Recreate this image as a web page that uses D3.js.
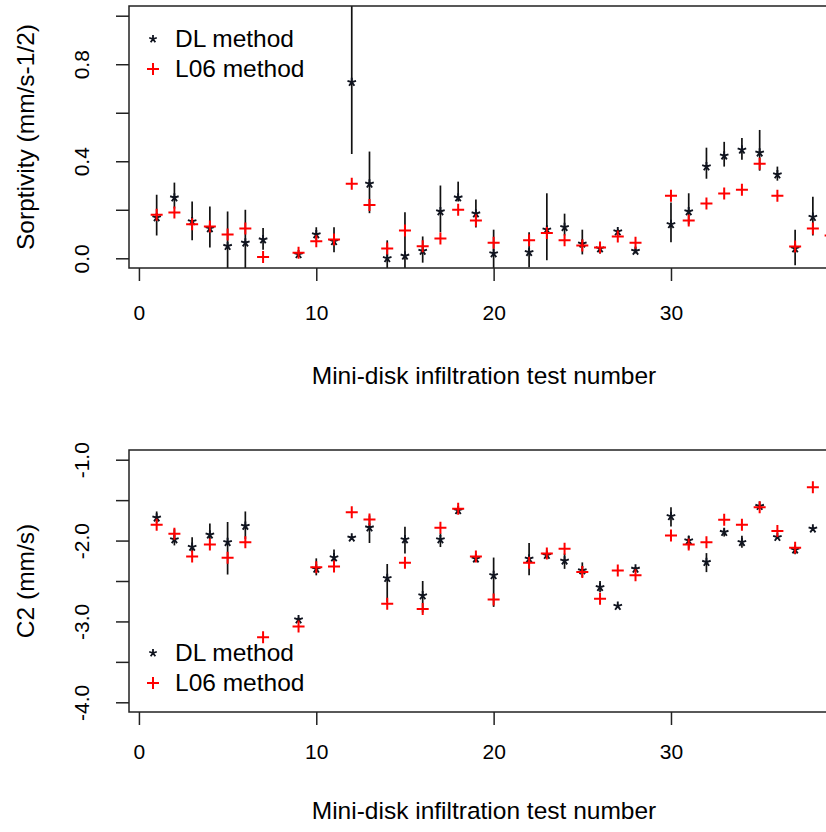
<!DOCTYPE html>
<html>
<head>
<meta charset="utf-8">
<script src="https://cdn.jsdelivr.net/npm/d3@7"></script>
<style>
  body { margin: 0; background: #fff; }
  text { font-family: "Liberation Sans", Arial, sans-serif; fill: #000; }
</style>
</head>
<body>
<div id="chart"></div>
<script>
"use strict";
// test numbers on the x axis
var testNo = [1,2,3,4,5,6,7,8,9,10,11,12,13,14,15,16,17,18,19,20,
              21,22,23,24,25,26,27,28,29,30,31,32,33,34,35,36,37,38,39];

// sorptivity, DL method (value, lower and upper end of bar) and L06 method
var dlS   = [0.168,0.25,0.152,0.123,0.05,0.064,0.077,null,0.016,0.098,0.07,0.726,0.307,0.0,0.01,0.03,0.193,0.25,0.184,0.02,
             null,0.025,0.118,0.128,0.06,0.04,0.11,0.03,null,0.14,0.193,0.378,0.423,0.447,0.435,0.345,0.04,0.17,null];
var dlSLo = [0.094,0.205,0.074,0.045,-0.06,-0.06,0.035,null,0.01,0.074,0.025,0.43,0.186,-0.04,-0.06,-0.018,0.107,0.234,0.127,-0.06,
             null,-0.037,-0.008,0.094,0.016,0.02,0.1,0.02,null,0.066,0.14,0.328,0.378,0.406,0.361,0.32,-0.029,0.094,null];
var dlSHi = [0.262,0.312,0.234,0.213,0.193,0.2,0.125,null,0.022,0.128,0.128,1.1,0.44,0.074,0.19,0.09,0.3,0.316,0.242,0.118,
             null,0.107,0.268,0.184,0.118,0.064,0.12,0.045,null,0.23,0.268,0.456,0.48,0.496,0.529,0.378,0.118,0.254,null];
var l06S  = [0.18,0.189,0.14,0.131,0.098,0.123,0.005,null,0.023,0.07,0.077,0.307,0.22,0.04,0.115,0.05,0.082,0.2,0.156,0.064,
             null,0.074,0.104,0.074,0.053,0.045,0.09,0.064,null,0.258,0.156,0.226,0.267,0.283,0.39,0.258,0.049,0.123,0.094];

// C2, same layout
var dlC   = [-1.718,-1.986,-2.08,-1.928,-2.02,-1.82,null,null,-2.977,-2.35,-2.21,-1.965,-1.84,-2.465,-1.986,-2.68,-1.986,-1.627,-2.225,-2.43,
             null,-2.225,-2.18,-2.25,-2.37,-2.577,-2.81,-2.35,null,-1.70,-2.0,-2.267,-1.896,-2.02,-1.574,-1.958,-2.114,-1.854,null];
var dlCLo = [-1.78,-2.06,-2.14,-1.98,-2.42,-1.98,null,null,-3.0,-2.43,-2.28,-1.98,-2.03,-2.76,-2.16,-2.89,-2.08,-1.65,-2.25,-2.82,
             null,-2.43,-2.2,-2.35,-2.45,-2.64,-2.83,-2.37,null,-1.826,-2.10,-2.39,-1.95,-2.09,-1.59,-1.98,-2.17,-1.88,null];
var dlCHi = [-1.64,-1.86,-1.958,-1.79,-1.77,-1.64,null,null,-2.95,-2.22,-2.11,-1.95,-1.69,-2.29,-1.83,-2.5,-1.91,-1.6,-2.2,-2.21,
             null,-2.03,-2.16,-2.16,-2.27,-2.5,-2.79,-2.33,null,-1.587,-1.937,-2.155,-1.85,-1.94,-1.56,-1.94,-2.06,-1.83,null];
var l06C  = [-1.804,-1.916,-2.197,-2.048,-2.213,-2.02,-3.195,null,-3.063,-2.33,-2.32,-1.65,-1.74,-2.78,-2.275,-2.845,-1.84,-1.607,-2.197,-2.73,
             null,-2.275,-2.16,-2.10,-2.39,-2.72,-2.37,-2.43,null,-1.937,-2.05,-2.02,-1.743,-1.805,-1.587,-1.883,-2.09,-1.34,null];

var xTicks = [0, 10, 20, 30];
var legendNames = ["DL method", "L06 method"];

var W = 826, H = 832;
var svg = d3.select("#chart").append("svg").attr("width", W).attr("height", H);

// x scale is shared, R style xlim c(1,40) plus 4%
var x = d3.scaleLinear().domain([-0.56, 41.56]).range([129, 876]);

// 5 armed asterisk like pch="*"
function starPath(r) {
  var p = "";
  for (var k = 0; k < 5; k++) {
    var a = (-90 + k * 72) * Math.PI / 180;
    p += "M0,0L" + (r * Math.cos(a)).toFixed(2) + "," + (r * Math.sin(a)).toFixed(2);
  }
  return p;
}

function panel(opt) {
  var g = svg.append("g");
  var y = d3.scaleLinear().domain(opt.ydom).range([opt.bottom, opt.top]);

  var clipId = "clip" + opt.id;
  svg.append("clipPath").attr("id", clipId).append("rect")
    .attr("x", 129).attr("y", opt.top).attr("width", 876 - 129).attr("height", opt.bottom - opt.top);

  var rows = testNo.map(function (t, i) {
    return { t: t, dl: opt.dl[i], lo: opt.lo[i], hi: opt.hi[i], l06: opt.l06[i] };
  });

  var plot = g.append("g").attr("clip-path", "url(#" + clipId + ")");

  // error bars
  plot.selectAll("line.bar")
    .data(rows.filter(function (d) { return d.lo != null; }))
    .enter().append("line")
    .attr("class", "bar")
    .attr("x1", function (d) { return x(d.t); })
    .attr("x2", function (d) { return x(d.t); })
    .attr("y1", function (d) { return y(d.lo); })
    .attr("y2", function (d) { return y(d.hi); })
    .attr("stroke", "#111").attr("stroke-width", 1.7);

  // DL points
  plot.selectAll("path.dl")
    .data(rows.filter(function (d) { return d.dl != null; }))
    .enter().append("path")
    .attr("class", "dl")
    .attr("d", starPath(4.5))
    .attr("transform", function (d) { return "translate(" + x(d.t) + "," + y(d.dl) + ")"; })
    .attr("stroke", "#10141f").attr("stroke-width", 1.9).attr("fill", "none");

  // L06 points
  plot.selectAll("path.l06")
    .data(rows.filter(function (d) { return d.l06 != null; }))
    .enter().append("path")
    .attr("class", "l06")
    .attr("d", "M-6,0H6M0,-6V6")
    .attr("transform", function (d) { return "translate(" + x(d.t) + "," + y(d.l06) + ")"; })
    .attr("stroke", "#ff0000").attr("stroke-width", 2).attr("fill", "none");

  // box
  g.append("rect")
    .attr("x", 129).attr("y", opt.top).attr("width", 876 - 129).attr("height", opt.bottom - opt.top)
    .attr("fill", "none").attr("stroke", "#222").attr("stroke-width", 1.5);

  // y axis
  var yAxis = d3.axisLeft(y).tickValues(opt.yticks).tickSize(13).tickSizeOuter(0)
    .tickFormat(function (d, i) { return opt.ylabels[i]; });
  var ya = g.append("g").attr("transform", "translate(129,0)").call(yAxis);
  ya.select(".domain").remove();
  ya.selectAll("line").attr("stroke", "#222").attr("stroke-width", 1.5);
  ya.selectAll("text")
    .attr("x", null).attr("dy", null)
    .attr("transform", "translate(-40,0) rotate(-90)")
    .attr("text-anchor", "middle")
    .style("font-size", "21px").style("font-family", "Liberation Sans, Arial, sans-serif").attr("fill", "#000");

  // x axis
  var xAxis = d3.axisBottom(x).tickValues(xTicks).tickSize(13).tickSizeOuter(0)
    .tickFormat(d3.format("d"));
  var xa = g.append("g").attr("transform", "translate(0," + opt.bottom + ")").call(xAxis);
  xa.select(".domain").remove();
  xa.selectAll("line").attr("stroke", "#222").attr("stroke-width", 1.5);
  xa.selectAll("text")
    .attr("y", opt.xlabOff).attr("dy", null)
    .style("font-size", "21px").style("font-family", "Liberation Sans, Arial, sans-serif").attr("fill", "#000");

  // axis titles
  g.append("text")
    .attr("x", 484).attr("y", opt.bottom + opt.titleOff)
    .attr("text-anchor", "middle").style("font-size", "24.5px")
    .text("Mini-disk infiltration test number");
  g.append("text")
    .attr("transform", "translate(34," + ((opt.top + opt.bottom) / 2) + ") rotate(-90)")
    .attr("text-anchor", "middle").style("font-size", "24.5px")
    .text(opt.ytitle);

  // legend
  var lg = g.append("g");
  lg.append("path").attr("d", starPath(4)).attr("transform", "translate(153," + opt.legY + ")")
    .attr("stroke", "#10141f").attr("stroke-width", 1.8).attr("fill", "none");
  lg.append("path").attr("d", "M-6,0H6M0,-6V6").attr("transform", "translate(153," + (opt.legY + 30) + ")")
    .attr("stroke", "#ff0000").attr("stroke-width", 2).attr("fill", "none");
  lg.selectAll("text.leg").data(legendNames).enter().append("text")
    .attr("class", "leg")
    .attr("x", 175).attr("y", function (d, i) { return opt.legY + 8 + i * 30; })
    .style("font-size", "24.5px")
    .text(function (d) { return d; });
}

panel({
  id: "S", top: 6, bottom: 268, ydom: [-0.04, 1.04],
  yticks: [0, 0.2, 0.4, 0.6, 0.8, 1.0], ylabels: ["0.0", "", "0.4", "", "0.8", ""],
  dl: dlS, lo: dlSLo, hi: dlSHi, l06: l06S,
  ytitle: "Sorptivity (mm/s-1/2)", xlabOff: 52, titleOff: 116, legY: 39
});

panel({
  id: "C", top: 450, bottom: 712, ydom: [-4.12, -0.88],
  yticks: [-4, -3.5, -3, -2.5, -2, -1.5, -1], ylabels: ["-4.0", "", "-3.0", "", "-2.0", "", "-1.0"],
  dl: dlC, lo: dlCLo, hi: dlCHi, l06: l06C,
  ytitle: "C2 (mm/s)", xlabOff: 47, titleOff: 107, legY: 653
});
</script>
</body>
</html>
